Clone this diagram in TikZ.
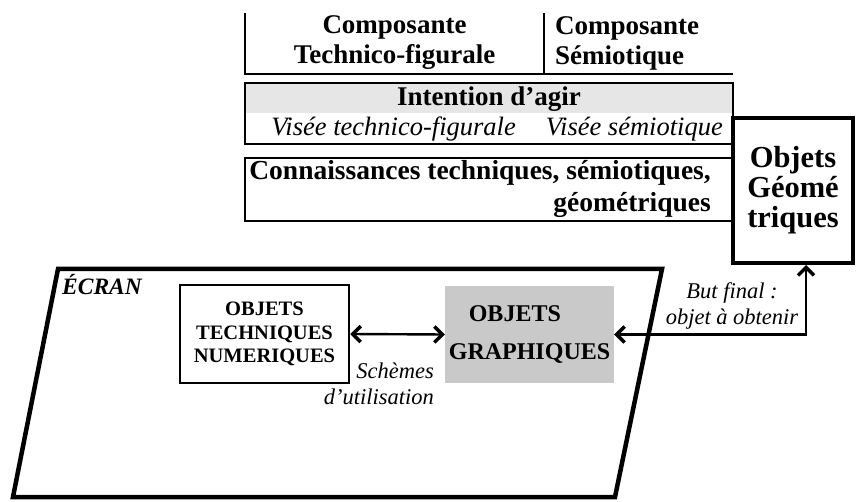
\documentclass[tikz,border=0pt]{standalone}
\usepackage{fontspec}
\setmainfont{Liberation Serif}
\usetikzlibrary{arrows.meta}
\definecolor{bandgrey}{HTML}{E6E6E6}
\definecolor{boxgrey}{HTML}{C9C9C9}
\begin{document}
\begin{tikzpicture}[x=1pt,y=-1pt,
  bigb/.style={font=\fontsize{27}{30}\selectfont\bfseries},
  bigi/.style={font=\fontsize{26.5}{30}\selectfont\itshape},
  capsb/.style={font=\fontsize{20.5}{23.5}\selectfont\bfseries},
  lbl/.style={font=\fontsize{22.5}{26}\selectfont\itshape},
  thin/.style={line width=2.2pt},
  conn/.style={line width=2.4pt, {Straight Barb[length=8pt,width=16pt,line width=3.5pt]}-{Straight Barb[length=8pt,width=16pt,line width=3.5pt]}}
]
\useasboundingbox (0,0) rectangle (859,502);

% top table
\draw[thin] (245,13) -- (245,74) -- (733,74);
\draw[thin] (544,13) -- (544,74);
\node[bigb, align=center] (ct) at (394.5,43) {Composante\\Technico-figurale};
\node[bigb, align=left, anchor=west, inner sep=0pt] (cs) at (555,43) {Composante\\Sémiotique};

% intention box
\fill[bandgrey] (245,83) rectangle (733,113);
\draw[thin] (245,83) rectangle (733,144);
\node[bigb] (int) at (489,99) {Intention d’agir};
\node[bigi, anchor=east, inner sep=0pt] (vtf) at (516,129) {Visée technico-figurale};
\node[bigi, anchor=east, inner sep=0pt] (vs) at (723,129) {Visée sémiotique};

% connaissances box
\draw[thin] (245,158) rectangle (733,221);
\node[font=\fontsize{27.5}{32}\selectfont\bfseries, align=right, anchor=east, inner sep=0pt] (con) at (711,189) {Connaissances techniques, sémiotiques,\\géométriques};

% objets geometriques
\node[draw, line width=4pt, fill=white, minimum width=120, minimum height=145, font=\fontsize{30.5}{30}\selectfont\bfseries, align=center, inner sep=0pt] (geo) at (793,190.5) {Objets\\Géomé\\triques};

% ecran
\draw[line width=4.5pt, line join=miter] (58,269) -- (662,269) -- (615,497) -- (13,497) -- cycle;
\node[font=\fontsize{23.5}{26}\selectfont\bfseries\itshape, anchor=west, inner sep=0pt] (ecran) at (62,285) {ÉCRAN};

\node[draw, line width=2.5pt, minimum width=169, minimum height=98, capsb, align=center, inner sep=0pt] (otn) at (264.5,334) {OBJETS\\TECHNIQUES\\NUMERIQUES};
\node[fill=boxgrey, minimum width=169, minimum height=97, font=\fontsize{24}{38}\selectfont\bfseries, align=left, inner sep=0pt] (ob) at (529.5,334.5) {\hspace*{20pt}OBJETS\\GRAPHIQUES};

\coordinate (bend) at (806,333);
\draw[conn] (otn.east) -- (ob.west);
\draw[conn] (ob.east) -- (ob.east -| bend) -- (bend |- geo.south);

\node[lbl, align=right, anchor=east, inner sep=0pt] (sch) at (434,384) {Schèmes\\d’utilisation};
\node[lbl, align=center, inner sep=0pt] (but) at (732,306) {But final :\\objet à obtenir};
\end{tikzpicture}
\end{document}
